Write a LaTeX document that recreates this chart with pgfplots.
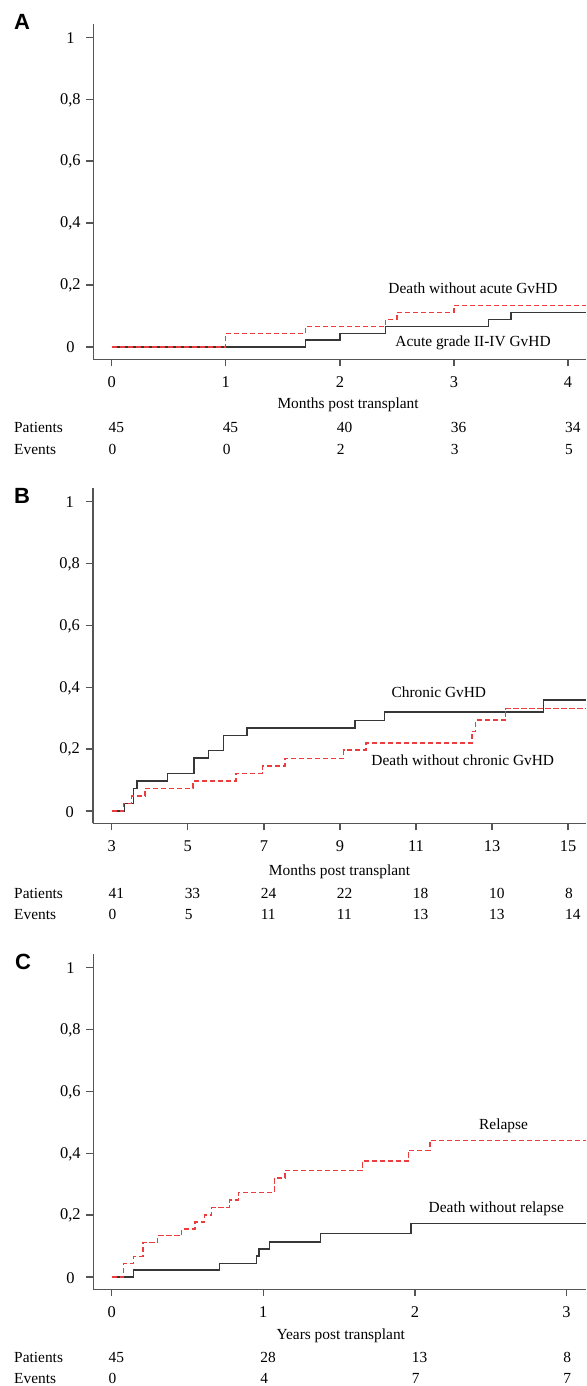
\documentclass[border=0pt]{standalone}
\usepackage{pgfplots}
\pgfplotsset{compat=1.18}
\usepackage{fontspec}
\setmainfont{Liberation Serif}
\newfontfamily\panelfont{Liberation Sans}
\definecolor{kmred}{RGB}{235,60,62}
\definecolor{kmblack}{RGB}{55,55,55}
\definecolor{axgray}{RGB}{85,85,85}
\newcommand{\lbl}{\fontsize{7.7}{9}\selectfont}
\pgfplotsset{
 kmaxis/.style={
  scale only axis, clip=false,
  axis x line=bottom, axis y line=left,
  axis line style={axgray, line width=0.8pt, -},
  every outer x axis line/.append style={-},
  every outer y axis line/.append style={-},
  every tick/.style={axgray, line width=0.7pt},
  tick align=outside,
  major tick length=3.5pt,
  ymin=-0.0397, ymax=1.043,
  ytick={0,0.2,0.4,0.6,0.8,1},
  yticklabels={0,{0,2},{0,4},{0,6},{0,8},1},
  minor tick num=0,
  tick label style={font=\fontsize{8.2}{9}\selectfont},
  yticklabel style={anchor=center, xshift=-8pt, yshift=-0.3pt},
  xticklabel style={anchor=base, yshift=-10.8pt},
  /pgf/number format/assume math mode=true,
 },
 kmblk/.style={kmblack, line width=0.7pt, const plot},
 kmrd/.style={kmred, line width=0.7pt, const plot, dash pattern=on 2.6pt off 1.4pt},
}
\tikzset{
 num/.style={anchor=base west, inner sep=0pt, xshift=-1.7pt, font=\lbl},
 txt/.style={anchor=base, inner sep=0pt, font=\lbl},
 rowlab/.style={anchor=base west, inner sep=0pt, font=\lbl},
 plab/.style={anchor=base west, inner sep=0pt, font=\panelfont\bfseries\fontsize{11}{13}\selectfont},
}
\begin{document}
\begin{tikzpicture}
\useasboundingbox (0,0) rectangle (293pt,-693pt);
% ---------------- Panel A
\begin{axis}[kmaxis, at={(46.7pt,-179.65pt)}, anchor=south west,
  width=246.3pt, height=167.65pt, xmin=-0.160, xmax=4.157, xtick={0,1,2,3,4}]
\addplot[kmblk] coordinates {(0,0) (1.70,0.0222) (2.00,0.0444) (2.40,0.0667) (3.30,0.0889) (3.50,0.1118) (4.157,0.1118)};
\addplot[kmrd] coordinates {(0,0) (1.00,0.0444) (1.70,0.0667) (2.40,0.0889) (2.50,0.1118) (3.00,0.1337) (4.157,0.1337)};
\node[txt] at (axis cs:3.166,0.173) {Death without acute GvHD};
\node[txt] at (axis cs:3.167,0.003) {Acute grade II-IV GvHD};
\node[txt] at (axis cs:2.072,-0.1986) {Months post transplant};
\node[rowlab] at (axis cs:-0.858,-0.2745) {Patients};
\node[rowlab] at (axis cs:-0.858,-0.3455) {Events};
\node[num] at (axis cs:0,-0.2745) {45};
\node[num] at (axis cs:1,-0.2745) {45};
\node[num] at (axis cs:2,-0.2745) {40};
\node[num] at (axis cs:3,-0.2745) {36};
\node[num] at (axis cs:4,-0.2745) {34};
\node[num] at (axis cs:0,-0.3455) {0};
\node[num] at (axis cs:1,-0.3455) {0};
\node[num] at (axis cs:2,-0.3455) {2};
\node[num] at (axis cs:3,-0.3455) {3};
\node[num] at (axis cs:4,-0.3455) {5};
\end{axis}
% ---------------- Panel B
\begin{axis}[kmaxis, at={(46.35pt,-411.65pt)}, anchor=south west,
  width=246.65pt, height=167.5pt, xmin=2.50, xmax=15.47, xtick={3,5,7,9,11,13,15}]
\addplot[kmblk] coordinates {(3,0) (3.33,0.0244) (3.57,0.0732) (3.66,0.0976) (4.46,0.122) (5.16,0.171) (5.55,0.195) (5.94,0.244) (6.56,0.268) (9.40,0.293) (10.17,0.320) (14.36,0.359) (15.47,0.359)};
\addplot[kmrd] coordinates {(3,0) (3.31,0.0244) (3.52,0.0488) (3.87,0.0732) (5.14,0.0967) (6.27,0.122) (6.96,0.145) (7.56,0.170) (9.10,0.197) (9.69,0.220) (12.47,0.257) (12.57,0.294) (13.35,0.331) (15.47,0.331)};
\node[txt] at (axis cs:11.60,0.366) {Chronic GvHD};
\node[txt] at (axis cs:12.23,0.148) {Death without chronic GvHD};
\node[txt] at (axis cs:8.99,-0.2094) {Months post transplant};
\node[rowlab] at (axis cs:0.426,-0.2839) {Patients};
\node[rowlab] at (axis cs:0.426,-0.3516) {Events};
\node[num] at (axis cs:3,-0.2839) {41};
\node[num] at (axis cs:5,-0.2839) {33};
\node[num] at (axis cs:7,-0.2839) {24};
\node[num] at (axis cs:9,-0.2839) {22};
\node[num] at (axis cs:11,-0.2839) {18};
\node[num] at (axis cs:13,-0.2839) {10};
\node[num] at (axis cs:15,-0.2839) {8};
\node[num] at (axis cs:3,-0.3516) {0};
\node[num] at (axis cs:5,-0.3516) {5};
\node[num] at (axis cs:7,-0.3516) {11};
\node[num] at (axis cs:9,-0.3516) {11};
\node[num] at (axis cs:11,-0.3516) {13};
\node[num] at (axis cs:13,-0.3516) {13};
\node[num] at (axis cs:15,-0.3516) {14};
\end{axis}
% ---------------- Panel C
\begin{axis}[kmaxis, at={(46.7pt,-644.65pt)}, anchor=south west,
  width=246.3pt, height=167.5pt, xmin=-0.121, xmax=3.129, xtick={0,1,2,3}]
\addplot[kmblk] coordinates {(0,0) (0.143,0.0222) (0.711,0.0444) (0.955,0.0675) (0.971,0.0905) (1.041,0.113) (1.376,0.141) (1.974,0.173) (3.129,0.173)};
\addplot[kmrd] coordinates {(0,0) (0.077,0.0444) (0.143,0.0667) (0.206,0.111) (0.303,0.1333) (0.46,0.1556) (0.548,0.1778) (0.613,0.2) (0.66,0.2244) (0.776,0.2489) (0.835,0.2733) (1.073,0.32) (1.142,0.3444) (1.653,0.3756) (1.957,0.4089) (2.099,0.4422) (3.129,0.4422)};
\node[txt] at (axis cs:2.585,0.477) {Relapse};
\node[txt] at (axis cs:2.537,0.207) {Death without relapse};
\node[txt] at (axis cs:1.511,-0.2021) {Years post transplant};
\node[rowlab] at (axis cs:-0.646,-0.2758) {Patients};
\node[rowlab] at (axis cs:-0.646,-0.3437) {Events};
\node[num] at (axis cs:0,-0.2758) {45};
\node[num] at (axis cs:1,-0.2758) {28};
\node[num] at (axis cs:2,-0.2758) {13};
\node[num] at (axis cs:3,-0.2758) {8};
\node[num] at (axis cs:0,-0.3437) {0};
\node[num] at (axis cs:1,-0.3437) {4};
\node[num] at (axis cs:2,-0.3437) {7};
\node[num] at (axis cs:3,-0.3437) {7};
\end{axis}
\node[plab] at (6.9pt,-14.65pt) {A};
\node[plab] at (6.9pt,-251.65pt) {B};
\node[plab] at (7.3pt,-484.65pt) {C};
\end{tikzpicture}
\end{document}
